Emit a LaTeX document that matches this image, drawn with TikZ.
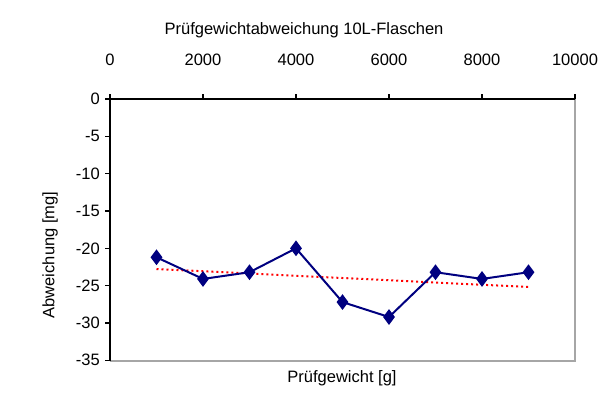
\documentclass[tikz,border=0pt]{standalone}
\usepackage{fontspec}
\setmainfont{Liberation Sans}
\usetikzlibrary{shapes.geometric}
\definecolor{navy}{RGB}{0,0,128}
\begin{document}
\begin{tikzpicture}[x=1pt,y=-1pt,font=\fontsize{16.5}{18}\selectfont,
  lbl/.style={inner sep=0pt},
  mk/.style={diamond,fill=navy,inner sep=0pt,minimum width=12pt,minimum height=16pt}]
\useasboundingbox (0,0) rectangle (614,416);
\fill[white] (0,0) rectangle (614,416);
\draw[gray!70,line width=1.5pt] (575,99) -- (575,361) -- (110,361);
\draw[line width=1.2pt] (110,361) -- (110,99) -- (575,99);
\foreach \i in {0,...,5}{
  \pgfmathsetmacro\xx{110+93*\i}
  \draw[line width=1.2pt] (\xx,99) -- (\xx,94);
  \pgfmathtruncatemacro\v{2000*\i}
  \node[lbl] (xt\i) at (\xx,60) {\v};
}
\foreach \i in {0,...,7}{
  \pgfmathsetmacro\yy{99+37.33*\i}
  \draw[line width=1.2pt] (110,\yy) -- (105,\yy);
  \pgfmathtruncatemacro\v{-5*\i}
  \node[lbl,anchor=east] (yt\i) at (100,\yy) {\ifnum\v=0 0\else\v\fi};
}
\node[lbl] (title) at (304,30) {Prüfgewichtabweichung 10L-Flaschen};
\node[lbl] (xl) at (342,378) {Prüfgewicht [g]};
\node[lbl,rotate=90] (yl) at (50,255) {Abweichung [mg]};
\draw[red,line width=2pt,dash pattern=on 2pt off 3pt] (156.5,269) -- (528.5,287);
\def\pts{1/-21.2,2/-24.1,3/-23.2,4/-20,5/-27.2,6/-29.2,7/-23.2,8/-24.1,9/-23.2}
\foreach \k/\v in \pts{
  \coordinate (p\k) at ({110+46.5*\k},{99-7.466*\v});
}
\draw[navy,line width=2pt] (p1)--(p2)--(p3)--(p4)--(p5)--(p6)--(p7)--(p8)--(p9);
\foreach \k in {1,...,9}{\node[mk] (m\k) at (p\k) {};}
\end{tikzpicture}
\end{document}
